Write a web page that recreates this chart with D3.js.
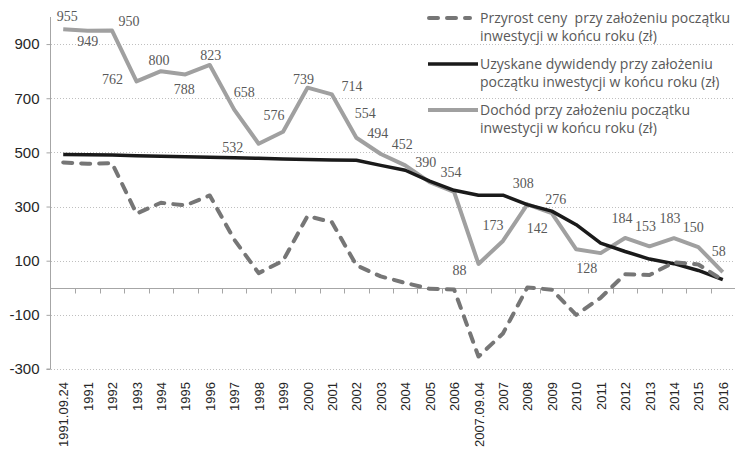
<!DOCTYPE html>
<html>
<head>
<meta charset="utf-8">
<script src="https://cdn.jsdelivr.net/npm/d3@7"></script>
<style>
  body { margin: 0; background: #fff; }
  svg { display: block; }
</style>
</head>
<body>
<div id="chart"></div>
<script>
// categories (x axis)
const years = ["1991.09.24", "1991", "1992", "1993", "1994", "1995", "1996", "1997", "1998", "1999",
  "2000", "2001", "2002", "2003", "2004", "2005", "2006", "2007.09.04", "2007", "2008", "2009",
  "2010", "2011", "2012", "2013", "2014", "2015", "2016"];

// Przyrost ceny (dashed)
const przyrost = [463, 458, 460, 274, 314, 304, 341, 178, 54, 100, 265, 242, 83, 42, 18, -4, -6,
  -254, -169, 1, -7, -100, -37, 50, 47, 94, 86, 28];
// Uzyskane dywidendy (black)
const dywidendy = [492, 491, 490, 488, 486, 484, 482, 480, 478, 476, 474, 472, 471, 452, 434, 394, 360,
  342, 342, 307, 283, 233, 165, 134, 106, 89, 64, 30];
// Dochód (gray, labelled)
const dochod = [955, 949, 950, 762, 800, 788, 823, 658, 532, 576, 739, 714, 554, 494, 452, 390, 354,
  88, 173, 308, 276, 142, 128, 184, 153, 183, 150, 58];

const yTicks = [-300, -100, 100, 300, 500, 700, 900];

const legendLabels = [
  ["Przyrost ceny  przy założeniu początku", "inwestycji w końcu roku (zł)"],
  ["Uzyskane dywidendy przy założeniu", "początku inwestycji w końcu roku (zł)"],
  ["Dochód przy założeniu początku", "inwestycji w końcu roku (zł)"]
];

// label nudges (px) for the Dochód data labels
const labelNudge = [[4,-13],[0,10],[17,-9],[-24,-2],[-2,-11],[-1,15],[1,-10],[10,-18],[-26,3],[-9,-17],
  [-4,-9],[20,-8],[9,-25],[-3,-21],[-3,-21],[-4,-20],[-3,-20],[-19,6],[-10,-16],[-4,-21],[4,-14],
  [-39,-21],[-14,15],[-3,-20],[-4,-20],[-4,-20],[-5,-20],[-4,-21]];

const width = 735, height = 453;
const margin = {left: 51, right: 0, top: 17, bottom: 84};

const svg = d3.select("#chart").append("svg")
  .attr("width", width)
  .attr("height", height);

const x = d3.scaleBand()
  .domain(years)
  .range([margin.left, width - margin.right]);

const y = d3.scaleLinear()
  .domain([-300, 1000])
  .range([height - margin.bottom, margin.top]);

const cx = d => x(d) + x.bandwidth() / 2;

// gridlines
svg.append("g")
  .selectAll("line")
  .data(yTicks)
  .join("line")
  .attr("x1", margin.left)
  .attr("x2", width - margin.right)
  .attr("y1", d => Math.round(y(d)) + 0.5)
  .attr("y2", d => Math.round(y(d)) + 0.5)
  .attr("stroke", "#bfbfbf")
  .attr("stroke-dasharray", "1,2");

// y axis
const yAxis = svg.append("g")
  .attr("transform", "translate(" + (margin.left - 0.5) + ",0)")
  .call(d3.axisLeft(y).tickValues(yTicks).tickSize(4).tickPadding(7).tickFormat(d => String(d)));
yAxis.select(".domain").attr("stroke", "#a6a6a6").attr("d", "M-4," + (y(-300)) + "H0V" + y(1000));
yAxis.selectAll(".tick line").attr("stroke", "#a6a6a6");
yAxis.selectAll(".tick text")
  .attr("font-family", "Liberation Sans, Arial, sans-serif")
  .attr("font-size", 15)
  .attr("fill", "#262626");

// zero axis with ticks between categories
const zeroY = Math.round(y(0)) + 0.5;
const xAxis = svg.append("g")
  .attr("transform", "translate(0," + zeroY + ")");
xAxis.append("line")
  .attr("x1", margin.left)
  .attr("x2", width)
  .attr("stroke", "#a6a6a6");
xAxis.selectAll(".tk")
  .data(years.slice(1))
  .join("line")
  .attr("class", "tk")
  .attr("x1", d => Math.round(x(d)) + 0.5)
  .attr("x2", d => Math.round(x(d)) + 0.5)
  .attr("y1", 0)
  .attr("y2", 5)
  .attr("stroke", "#a6a6a6");

// category labels, rotated
svg.append("g")
  .selectAll("text")
  .data(years)
  .join("text")
  .attr("transform", d => "translate(" + (cx(d) + 5) + "," + 382 + ") rotate(-90)")
  .attr("text-anchor", "end")
  .attr("font-family", "Liberation Sans, Arial, sans-serif")
  .attr("font-size", 13)
  .attr("fill", "#262626")
  .text(d => d);

// lines
const line = d3.line()
  .x((d, i) => cx(years[i]))
  .y(d => y(d));

svg.append("path")
  .datum(dochod)
  .attr("d", line)
  .attr("fill", "none")
  .attr("stroke", "#a0a0a0")
  .attr("stroke-width", 4)
  .attr("stroke-linejoin", "round");

svg.append("path")
  .datum(dywidendy)
  .attr("d", line)
  .attr("fill", "none")
  .attr("stroke", "#1a1a1a")
  .attr("stroke-width", 3.5)
  .attr("stroke-linejoin", "round");

svg.append("path")
  .datum(przyrost)
  .attr("d", line)
  .attr("fill", "none")
  .attr("stroke", "#767676")
  .attr("stroke-width", 4)
  .attr("stroke-linecap", "round")
  .attr("stroke-linejoin", "round")
  .attr("stroke-dasharray", "9,9");

// data labels for Dochód
svg.append("g")
  .selectAll("text")
  .data(dochod)
  .join("text")
  .attr("x", (d, i) => cx(years[i]) + labelNudge[i][0])
  .attr("y", (d, i) => y(d) + labelNudge[i][1])
  .attr("dy", "0.35em")
  .attr("text-anchor", "middle")
  .attr("font-family", "Liberation Serif, Times New Roman, serif")
  .attr("font-size", 14)
  .attr("fill", "#595959")
  .text(d => d);

// legend
const legendStyles = [
  {stroke: "#767676", width: 4, dash: "9,9", cap: "round"},
  {stroke: "#1a1a1a", width: 3.5, dash: null, cap: "butt"},
  {stroke: "#a0a0a0", width: 4, dash: null, cap: "butt"}
];
const legend = svg.append("g").attr("transform", "translate(427,18)");
legendLabels.forEach((lines, i) => {
  const g = legend.append("g").attr("transform", "translate(0," + (i * 46) + ")");
  g.append("line")
    .attr("x1", i === 0 ? 2 : 1)
    .attr("x2", i === 0 ? 43 : 51)
    .attr("stroke", legendStyles[i].stroke)
    .attr("stroke-width", legendStyles[i].width)
    .attr("stroke-linecap", legendStyles[i].cap)
    .attr("stroke-dasharray", legendStyles[i].dash);
  lines.forEach((t, j) => {
    g.append("text")
      .attr("x", 53)
      .attr("y", j * 18.5)
      .attr("dy", "0.35em")
      .attr("font-family", "Open Sans, sans-serif")
      .attr("font-size", 14)
      .attr("fill", "#595959")
      .style("white-space", "pre")
      .text(t);
  });
});
</script>
</body>
</html>
